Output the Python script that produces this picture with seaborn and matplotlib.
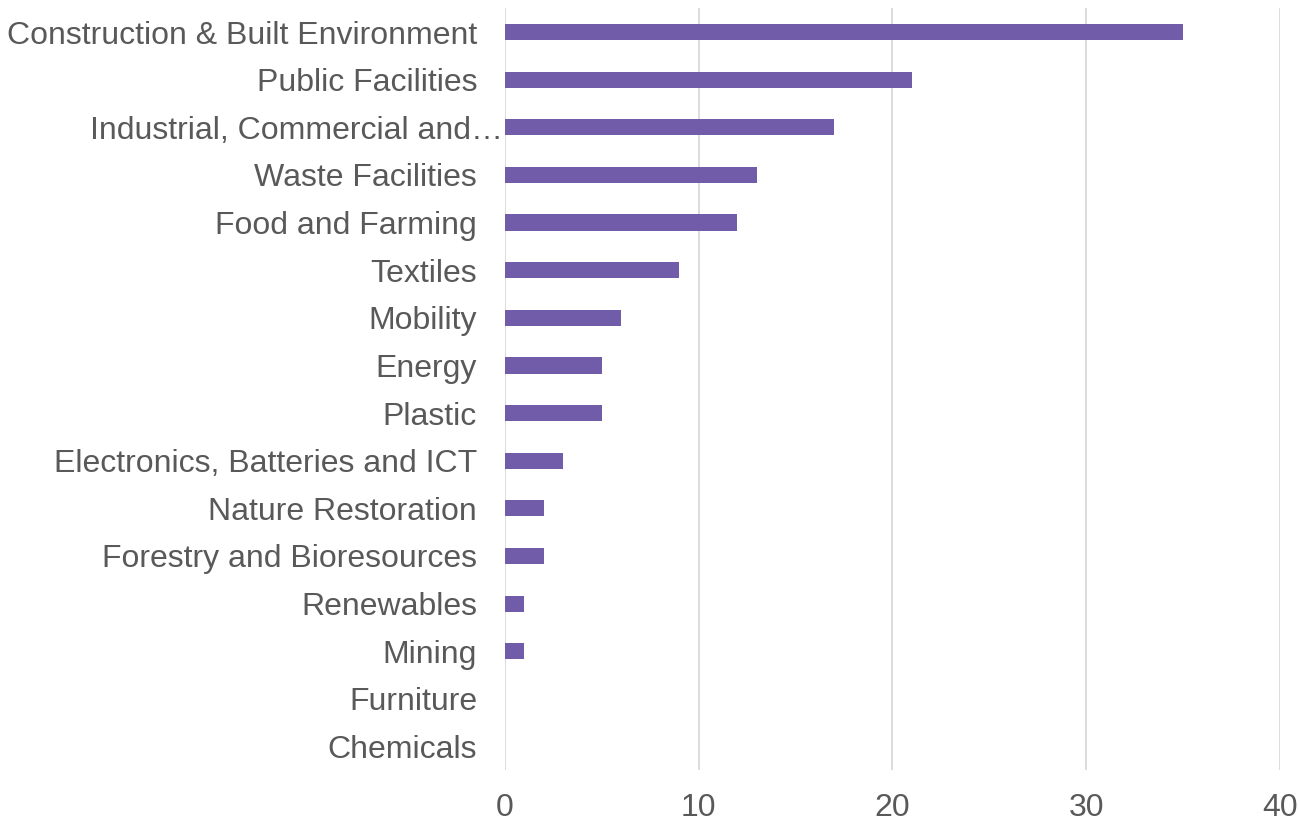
import matplotlib
matplotlib.use("Agg")
import matplotlib.transforms as mtransforms
import pandas as pd
import matplotlib.pyplot as plt
import seaborn as sns

sectors = [
    "Construction & Built Environment",
    "Public Facilities",
    "Industrial, Commercial and\u2026",
    "Waste Facilities",
    "Food and Farming",
    "Textiles",
    "Mobility",
    "Energy",
    "Plastic",
    "Electronics, Batteries and ICT",
    "Nature Restoration",
    "Forestry and Bioresources",
    "Renewables",
    "Mining",
    "Furniture",
    "Chemicals",
]
counts = [35, 21, 17, 13, 12, 9, 6, 5, 5, 3, 2, 2, 1, 1, 0, 0]
xticks = [0, 10, 20, 30, 40]

df = pd.DataFrame({"Sector": sectors, "Count": counts})

sns.set_theme(style="white")
plt.rcParams["font.family"] = ["Liberation Sans", "DejaVu Sans"]

fig = plt.figure(figsize=(13.01, 8.23), dpi=100)
ax = fig.add_axes([0.388, 0.064, 0.596, 0.926])

sns.barplot(data=df, x="Count", y="Sector", color="#705CA8", width=0.34,
            saturation=1, linewidth=0, ax=ax)

ax.set_xlim(0, 40)
ax.set_xticks(xticks)
ax.xaxis.grid(True, color="#D9D9D9", linewidth=1.3)
ax.set_axisbelow(True)
for s in ax.spines.values():
    s.set_visible(False)
ax.set_xlabel("")
ax.set_ylabel("")
ax.tick_params(axis="y", length=0, pad=20, labelsize=23, labelcolor="#595959")
ax.tick_params(axis="x", length=0, pad=16, labelsize=23, labelcolor="#595959")

# the truncated label runs right up to the axis in the original
shift = mtransforms.ScaledTranslation(0.26, 0, fig.dpi_scale_trans)
for lab in ax.get_yticklabels():
    if lab.get_text().endswith("\u2026"):
        lab.set_transform(lab.get_transform() + shift)

fig.savefig("out.png", dpi=100)
